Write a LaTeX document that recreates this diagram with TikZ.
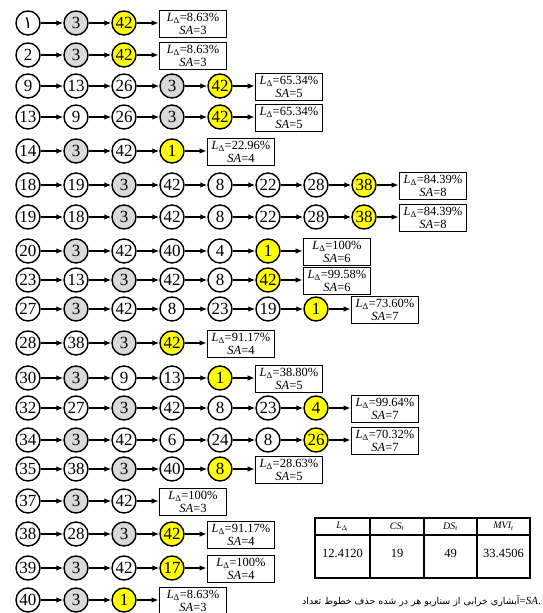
\documentclass[tikz,border=0pt]{standalone}
\usepackage{fontspec}
\setmainfont{Liberation Serif}
\newfontfamily\arabicfont[Script=Arabic]{DejaVu Sans}
\TeXXeTstate=1
\usetikzlibrary{positioning,arrows.meta}

\definecolor{G}{HTML}{D9D9D9}
\definecolor{Y}{HTML}{FFFF00}
\colorlet{W}{white}

\tikzset{
  bus/.style={circle, draw, line width=1.4pt, minimum size=24pt, inner sep=0pt,
    font=\fontsize{17}{17}\selectfont},
  result/.style={draw, line width=1.6pt, minimum width=67pt, minimum height=27pt,
    inner sep=1pt, align=center, font=\fontsize{12.5}{12.5}\selectfont},
  link/.style={line width=1.3pt, -{Latex[length=7pt,width=5.5pt]}},
  cell/.style={inner sep=0pt, font=\fontsize{12.5}{12.5}\selectfont},
  head/.style={inner sep=0pt, font=\fontsize{10}{10}\selectfont\itshape},
}
\newcommand\pone{{\arabicfont ۱}}
\newcommand\loss[2]{\textit{L}\textsubscript{Δ}=#1\%\\\textit{SA}=#2}

\begin{document}
\begin{tikzpicture}[x=1pt,y=-1pt]
\useasboundingbox (0,0) rectangle (542,613);

% cascading failure sequences
\foreach \y/\seq/\lv/\sv [count=\i] in {
  23/{\pone/W,3/G,42/Y}/8.63/3,
  55/{2/W,3/G,42/Y}/8.63/3,
  86/{9/W,13/W,26/W,3/G,42/Y}/65.34/5,
  117/{13/W,9/W,26/W,3/G,42/Y}/65.34/5,
  151/{14/W,3/G,42/W,1/Y}/22.96/4,
  185/{18/W,19/W,3/G,42/W,8/W,22/W,28/W,38/Y}/84.39/8,
  217/{19/W,18/W,3/G,42/W,8/W,22/W,28/W,38/Y}/84.39/8,
  251/{20/W,3/G,42/W,40/W,4/W,1/Y}/100/6,
  280/{23/W,13/W,3/G,42/W,8/W,42/Y}/99.58/6,
  309/{27/W,3/G,42/W,8/W,23/W,19/W,1/Y}/73.60/7,
  343/{28/W,38/W,3/G,42/Y}/91.17/4,
  378/{30/W,3/G,9/W,13/W,1/Y}/38.80/5,
  408/{32/W,27/W,3/G,42/W,8/W,23/W,4/Y}/99.64/7,
  440/{34/W,3/G,42/W,6/W,24/W,8/W,26/Y}/70.32/7,
  469/{35/W,38/W,3/G,40/W,8/Y}/28.63/5,
  501/{37/W,3/G,42/W}/100/3,
  534/{38/W,28/W,3/G,42/Y}/91.17/4,
  568/{39/W,3/G,42/W,17/Y}/100/4,
  600/{40/W,3/G,1/Y}/8.63/3}{
  \foreach \v/\col [count=\j] in \seq {
    \node[bus, fill=\col] (n\i-\j) at ({28+48*(\j-1)},\y) {\v};
    \ifnum\j>1 \draw[link] (\lastnode) -- (n\i-\j); \fi
    \xdef\lastnode{n\i-\j}
  }
  \node[result, right=22pt of \lastnode, yshift=-1pt] (b\i) {\loss{\lv}{\sv}};
  \draw[link] (\lastnode) -- (\lastnode -| b\i.west);
}

% summary table
\draw[line width=1.6pt] (315,518) rectangle (530,578);
\draw[line width=1.2pt] (315,535) -- (530,535);
\foreach \x in {370,424,477}
  \draw[line width=1.6pt] (\x,518) -- (\x,578);
\node[head] (h1) at (342.5,526.5) {\textit{L}\textsubscript{Δ\textsubscript{t}}};
\node[head] (h2) at (397,526.5) {CS\textsubscript{t}};
\node[head] (h3) at (450.5,526.5) {DS\textsubscript{t}};
\node[head] (h4) at (503.5,526.5) {MVI\textsubscript{t}};
\node[cell] (d1) at (342.5,553) {12.4120};
\node[cell] (d2) at (397,553) {19};
\node[cell] (d3) at (450.5,553) {49};
\node[cell] (d4) at (503.5,553) {33.4506};

% caption
\node[anchor=east, inner sep=0pt] (cap) at (541,601)
  {{\arabicfont\fontsize{9.5}{9.5}\selectfont\beginR آبشاری خرابی از سناریو هر در شده حذف خطوط تعداد\endR}{\fontsize{11}{11}\selectfont=\textit{SA}.}};
\end{tikzpicture}
\end{document}
